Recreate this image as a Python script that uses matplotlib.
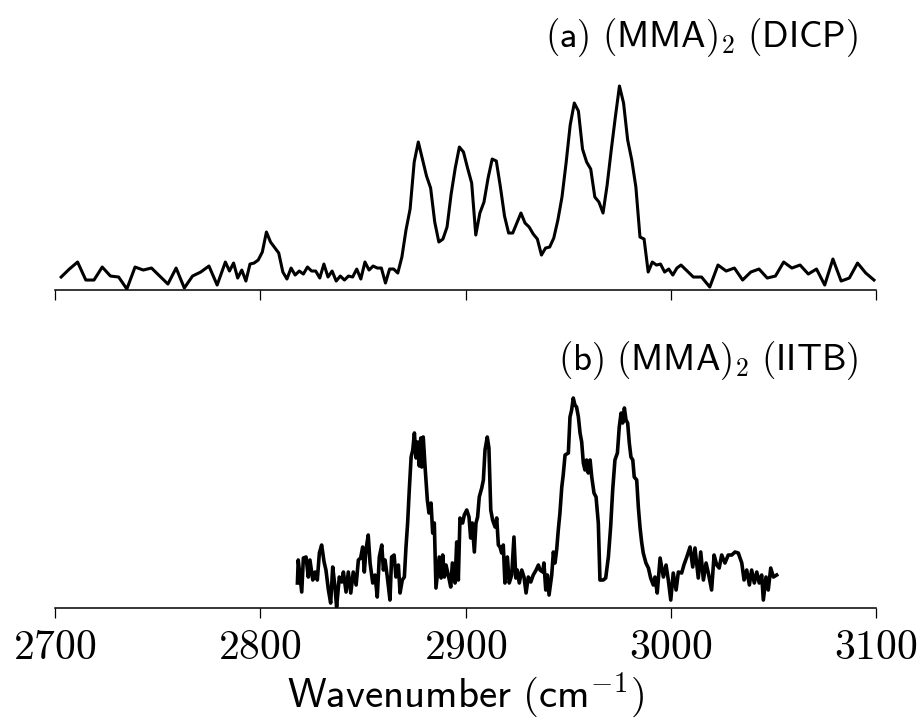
import numpy as np
import matplotlib
matplotlib.use("Agg")
import matplotlib.pyplot as plt

plt.rcParams['mathtext.fontset'] = 'cm'

# (a) DICP spectrum, wavenumber (cm-1) and intensity (arb. units)
dicp_wn = [2703, 2707, 2711, 2715, 2719, 2723, 2727, 2731, 2735, 2739,
           2743, 2747, 2751, 2755, 2759, 2763, 2767, 2771, 2775, 2779,
           2783, 2785, 2787, 2789, 2791, 2793, 2795, 2797, 2799, 2801,
           2803, 2805, 2809, 2811, 2813, 2815, 2817, 2819, 2821, 2823,
           2825, 2827, 2829, 2831, 2833, 2835, 2837, 2839, 2841, 2843,
           2845, 2847, 2849, 2851, 2853, 2855, 2857, 2859, 2861, 2863,
           2865, 2867, 2869, 2871, 2873, 2875, 2877, 2881, 2883, 2885,
           2887, 2889, 2891, 2893, 2895, 2897, 2899, 2901, 2903, 2905,
           2907, 2909, 2911, 2913, 2915, 2917, 2919, 2921, 2923, 2925,
           2927, 2929, 2931, 2933, 2935, 2937, 2939, 2941, 2943, 2945,
           2947, 2949, 2951, 2953, 2955, 2957, 2959, 2961, 2963, 2965,
           2967, 2969, 2971, 2973, 2975, 2977, 2979, 2981, 2983, 2985,
           2987, 2989, 2991, 2993, 2995, 2997, 2999, 3001, 3003, 3005,
           3007, 3011, 3015, 3019, 3023, 3027, 3031, 3035, 3039, 3043,
           3047, 3051, 3055, 3059, 3063, 3067, 3071, 3075, 3079, 3083,
           3087, 3091, 3095, 3099]
dicp_int = [13, 21, 28, 10, 10, 23, 14, 13, 1, 23,
            20, 22, 14, 6, 22, 2, 14, 18, 24, 5,
            28, 19, 27, 12, 20, 9, 26, 27, 30, 38,
            58, 48, 37, 18, 11, 22, 15, 19, 16, 23,
            19, 19, 12, 26, 13, 19, 9, 14, 10, 14,
            13, 21, 11, 28, 20, 24, 22, 22, 7, 21,
            21, 17, 33, 60, 81, 128, 148, 114, 102, 68,
            48, 51, 63, 96, 122, 143, 138, 122, 107, 55,
            77, 88, 112, 131, 129, 103, 74, 57, 57, 67,
            77, 67, 63, 56, 51, 35, 42, 43, 52, 70,
            93, 127, 165, 187, 179, 141, 128, 121, 93, 88,
            77, 105, 140, 173, 204, 187, 150, 130, 103, 53,
            51, 18, 28, 25, 26, 18, 21, 15, 22, 25,
            21, 13, 13, 3, 25, 19, 22, 10, 18, 21,
            12, 14, 28, 22, 25, 16, 21, 5, 31, 9,
            12, 27, 17, 10]

# (b) IITB spectrum
iitb_wn = [2818.1, 2818.5, 2820.2, 2821.0, 2822.3, 2823.4, 2824.2, 2825.6, 2826.7, 2827.8,
           2828.8, 2829.9, 2831.1, 2832.0, 2833.2, 2834.3, 2835.3, 2836.4, 2837.2, 2838.5,
           2839.7, 2840.5, 2841.8, 2842.9, 2844.1, 2845.3, 2846.7, 2847.8, 2848.9, 2849.9,
           2850.7, 2851.5, 2852.6, 2853.5, 2854.8, 2855.9, 2857.0, 2858.0, 2859.2, 2860.0,
           2860.8, 2861.9, 2863.2, 2864.0, 2865.2, 2866.1, 2867.3, 2868.1, 2869.2, 2870.2,
           2871.0, 2871.8, 2872.6, 2873.5, 2874.3, 2875.1, 2875.9, 2876.7, 2877.5, 2878.2,
           2878.7, 2879.4, 2880.3, 2881.4, 2882.2, 2883.2, 2884.0, 2884.8, 2885.6, 2886.5,
           2887.2, 2888.1, 2888.9, 2889.7, 2890.5, 2891.6, 2892.8, 2893.6, 2894.9, 2895.7,
           2896.5, 2897.3, 2898.6, 2899.4, 2900.6, 2901.7, 2902.5, 2903.3, 2904.3, 2905.1,
           2905.9, 2906.7, 2907.9, 2908.7, 2909.5, 2910.6, 2911.4, 2912.3, 2913.2, 2914.4,
           2915.2, 2916.0, 2916.8, 2917.6, 2918.4, 2919.2, 2920.4, 2921.3, 2922.5, 2923.6,
           2924.5, 2925.2, 2926.2, 2927.4, 2928.5, 2929.5, 2930.6, 2931.8, 2933.0, 2934.4,
           2935.5, 2936.3, 2937.6, 2938.2, 2939.1, 2939.9, 2940.7, 2942.0, 2942.8, 2943.6,
           2944.4, 2945.2, 2946.0, 2946.9, 2947.6, 2948.5, 2950.1, 2950.9, 2951.7, 2952.5,
           2953.3, 2954.1, 2955.0, 2955.8, 2956.6, 2957.4, 2958.2, 2959.0, 2959.8, 2960.7,
           2961.5, 2962.6, 2963.6, 2964.7, 2965.5, 2967.1, 2968.3, 2969.6, 2970.7, 2971.7,
           2972.8, 2974.0, 2974.9, 2975.8, 2976.6, 2977.4, 2978.2, 2979.0, 2979.8, 2980.6,
           2981.5, 2982.2, 2983.4, 2984.2, 2985.0, 2985.8, 2986.6, 2987.9, 2989.1, 2990.2,
           2991.5, 2992.3, 2993.4, 2994.8, 2996.4, 2997.7, 2998.8, 3000.0, 3001.2, 3002.6,
           3003.7, 3005.3, 3006.4, 3007.8, 3009.4, 3010.7, 3011.8, 3013.4, 3014.6, 3015.9,
           3017.2, 3018.3, 3019.9, 3021.1, 3022.4, 3023.6, 3024.8, 3026.4, 3028.0, 3029.7,
           3031.3, 3032.9, 3034.6, 3035.7, 3037.0, 3038.3, 3039.4, 3040.7, 3041.9, 3043.1,
           3044.3, 3045.1, 3046.4, 3047.5, 3048.7, 3050.0, 3051.6]
iitb_int = [25, 48, 16, 50, 51, 31, 48, 28, 36, 28,
            55, 63, 46, 38, 18, 5, 41, 21, 1, 31,
            26, 36, 16, 36, 15, 36, 23, 48, 50, 61,
            36, 58, 73, 45, 25, 33, 11, 51, 63, 38,
            48, 31, 8, 51, 53, 31, 43, 15, 28, 31,
            61, 85, 118, 151, 158, 175, 150, 166, 142, 170,
            141, 171, 141, 108, 95, 105, 75, 85, 20, 38,
            51, 30, 53, 31, 43, 33, 21, 45, 25, 66,
            28, 90, 85, 93, 98, 91, 70, 85, 56, 85,
            91, 111, 120, 128, 158, 171, 160, 98, 88, 81,
            90, 63, 61, 55, 63, 25, 51, 25, 33, 71,
            30, 38, 25, 38, 31, 15, 31, 26, 33, 38,
            43, 38, 36, 45, 18, 33, 13, 33, 56, 45,
            58, 78, 95, 121, 133, 153, 155, 191, 198, 210,
            203, 201, 191, 175, 166, 145, 138, 148, 135, 148,
            131, 115, 111, 85, 28, 28, 30, 51, 81, 118,
            148, 155, 181, 195, 185, 200, 188, 185, 165, 151,
            148, 131, 128, 101, 81, 66, 55, 45, 40, 30,
            23, 31, 15, 50, 31, 43, 28, 8, 35, 18,
            36, 35, 43, 51, 61, 41, 60, 30, 56, 28,
            45, 35, 18, 53, 43, 40, 53, 45, 53, 53,
            56, 55, 45, 28, 38, 23, 38, 25, 36, 25,
            33, 8, 31, 18, 40, 31, 33]

xticks = [2700, 2800, 2900, 3000, 3100]
titles = [r'$\mathsf{(a)\ (MMA)}_{2}\ \mathsf{(DICP)}$',
          r'$\mathsf{(b)\ (MMA)}_{2}\ \mathsf{(IITB)}$']

fig = plt.figure(figsize=(9.23, 7.24), dpi=100)
ax1 = fig.add_axes([0.0596, 0.5994, 0.8895, 0.3039])
ax2 = fig.add_axes([0.0596, 0.1602, 0.8895, 0.3177])

ax1.plot(dicp_wn, dicp_int, '-', color='black', lw=2.2)
ax2.plot(iitb_wn, iitb_int, '-', color='black', lw=2.6)
ax1.set_ylim(0, 220)
ax2.set_ylim(0, 230)

for ax in (ax1, ax2):
    ax.set_xlim(2700, 3100)
    for s in ('left', 'right', 'top'):
        ax.spines[s].set_visible(False)
    ax.spines['bottom'].set_linewidth(1.1)
    ax.set_yticks([])
    ax.set_xticks(xticks, labels=['$%d$' % t for t in xticks])
    ax.tick_params(axis='x', direction='out', length=7, width=0.9,
                   labelsize=30, pad=6)
    ax.patch.set_visible(False)

ax1.tick_params(axis='x', labelbottom=False)
ax2.set_xlabel(r'$\mathsf{Wavenumber\ (cm}^{\mathsf{-1}}\mathsf{)}$',
               fontsize=29.5, labelpad=2)

fig.text(858 / 923, 0.935, titles[0], ha='right', va='baseline', fontsize=26.5)
fig.text(858 / 923, 0.489, titles[1], ha='right', va='baseline', fontsize=26.5)

fig.savefig('out.png', dpi=100)
